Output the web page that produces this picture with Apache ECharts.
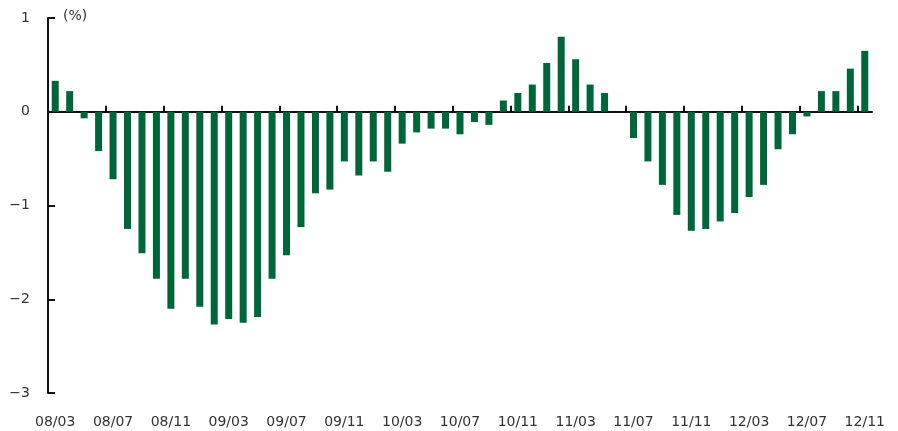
<!DOCTYPE html>
<html>
<head>
<meta charset="utf-8">
<script src="https://cdn.jsdelivr.net/npm/echarts@6/dist/echarts.min.js"></script>
<style>
html,body{margin:0;padding:0;background:#fff;}
#c{width:898px;height:431px;}
</style>
</head>
<body>
<div id="c"></div>
<script>
var months = [
  "08/03","08/04","08/05","08/06","08/07","08/08","08/09","08/10","08/11","08/12",
  "09/01","09/02","09/03","09/04","09/05","09/06","09/07","09/08","09/09","09/10","09/11","09/12",
  "10/01","10/02","10/03","10/04","10/05","10/06","10/07","10/08","10/09","10/10","10/11","10/12",
  "11/01","11/02","11/03","11/04","11/05","11/06","11/07","11/08","11/09","11/10","11/11","11/12",
  "12/01","12/02","12/03","12/04","12/05","12/06","12/07","12/08","12/09","12/10","12/11"
];
var values = [
  0.33, 0.22, -0.07, -0.42, -0.72, -1.25, -1.51, -1.78, -2.10, -1.78,
  -2.08, -2.27, -2.21, -2.25, -2.19, -1.78, -1.53, -1.23, -0.87, -0.83, -0.53, -0.68,
  -0.53, -0.64, -0.34, -0.22, -0.18, -0.18, -0.24, -0.11, -0.14, 0.12, 0.20, 0.29,
  0.52, 0.80, 0.56, 0.29, 0.20, 0, -0.28, -0.53, -0.78, -1.10, -1.27, -1.25,
  -1.17, -1.08, -0.91, -0.78, -0.40, -0.24, -0.05, 0.22, 0.22, 0.46, 0.65
];
var yTicks = [-3, -2, -1, 0, 1];
var unitLabel = "(%)";

var font = "DejaVu Sans";
// tick marks on the zero line: at the left edge of every 4th month band
var tickBands = [];
for (var i = 0; i < months.length; i += 4) tickBands.push(i);

var chart = echarts.init(document.getElementById('c'), null, {renderer: 'canvas'});
chart.setOption({
  animation: false,
  backgroundColor: '#ffffff',
  grid: {left: 48, right: 26, top: 18, bottom: 38},
  graphic: [{
    type: 'text', left: 63, top: 9,
    style: {text: unitLabel, font: '14px ' + font, fill: '#333'}
  }],
  xAxis: [{
    type: 'category', data: months, position: 'bottom',
    axisLine: {show: false, onZero: false},
    axisTick: {show: false},
    axisLabel: {interval: 3, margin: 22, color: '#333', fontFamily: font, fontSize: 14}
  }, {
    type: 'value', min: 0, max: months.length, position: 'bottom',
    axisLine: {show: true, onZero: true, lineStyle: {color: '#111', width: 2}},
    axisTick: {show: true, inside: true, length: 6, customValues: tickBands,
      lineStyle: {color: '#111', width: 2}},
    axisLabel: {show: false},
    splitLine: {show: false}
  }],
  yAxis: {
    type: 'value', min: yTicks[0], max: yTicks[yTicks.length - 1], interval: 1,
    axisLine: {show: true, lineStyle: {color: '#111', width: 2}},
    axisTick: {show: true, inside: true, length: 7, lineStyle: {color: '#111', width: 2}},
    splitLine: {show: false},
    axisLabel: {margin: 18, color: '#333', fontFamily: font, fontSize: 14,
      formatter: function (v) { return v < 0 ? '\u2212' + Math.abs(v) : String(v); }}
  },
  series: [{
    type: 'bar', data: values, xAxisIndex: 0, barWidth: 7,
    itemStyle: {color: '#00663a'}
  }]
});
</script>
</body>
</html>
